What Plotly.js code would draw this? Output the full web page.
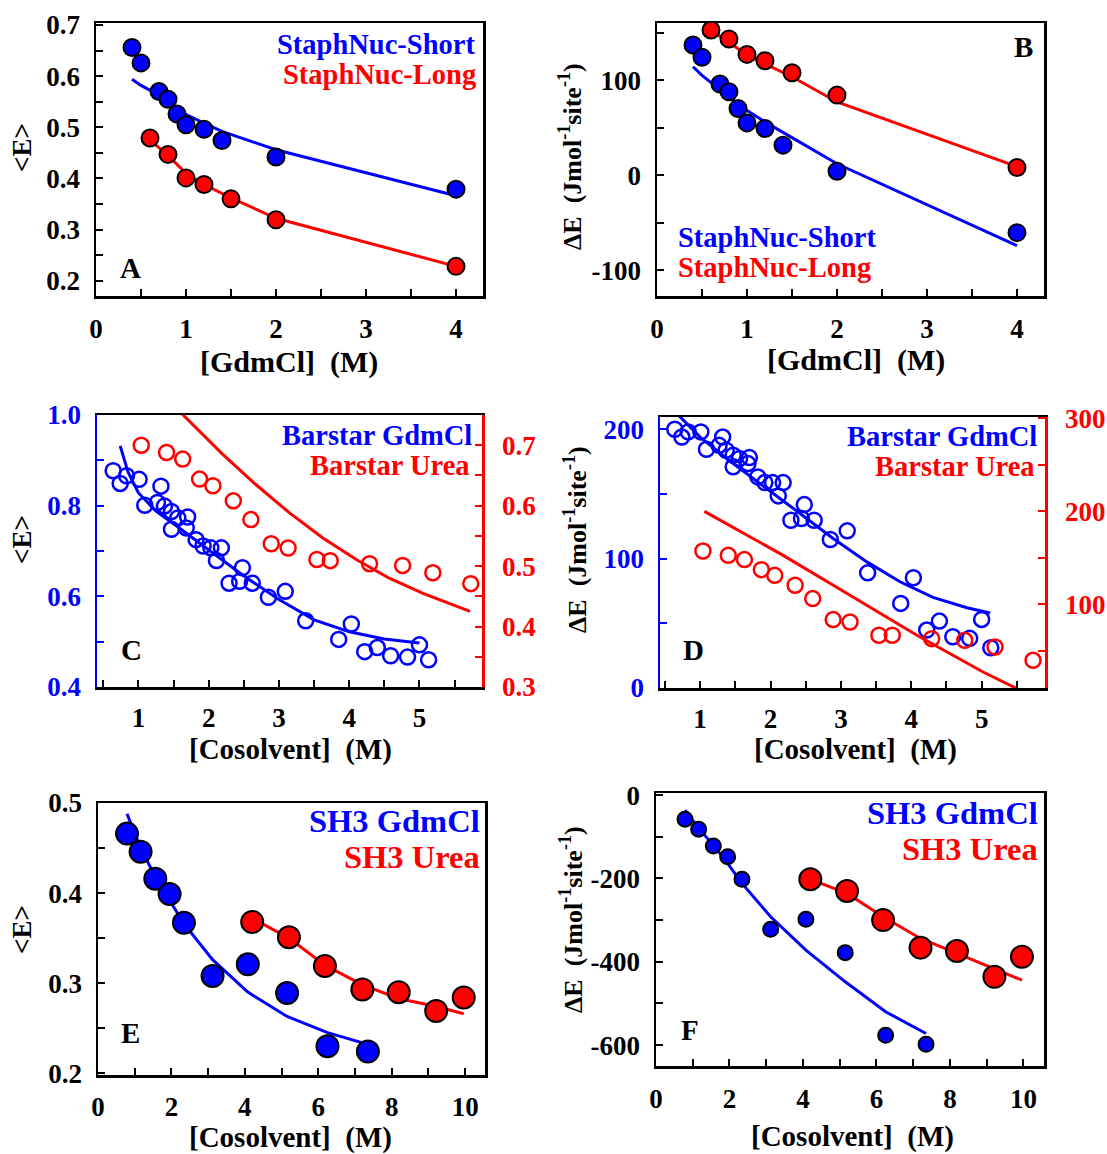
<!DOCTYPE html>
<html><head><meta charset="utf-8">
<script src="https://cdn.plot.ly/plotly-3.0.1.min.js"></script>
<style>html,body{margin:0;padding:0;background:#fff}#chart{width:1107px;height:1154px}</style>
</head><body><div id="chart"></div>
<script>
// ---------- Panel A / B : StaphNuc vs [GdmCl] ----------
const staphShortX = [0.4, 0.5, 0.7, 0.8, 0.9, 1.0, 1.2, 1.4, 2.0, 4.0];
const staphLongX  = [0.6, 0.8, 1.0, 1.2, 1.5, 2.0, 4.0];
const A_shortE    = [0.656, 0.626, 0.570, 0.555, 0.526, 0.505, 0.496, 0.474, 0.442, 0.379];
const A_shortFit  = [0.594, 0.582, 0.563, 0.552, 0.537, 0.525, 0.508, 0.492, 0.456, 0.366];
const A_longE     = [0.479, 0.447, 0.401, 0.388, 0.360, 0.319, 0.228];
const A_longFit   = [0.475, 0.445, 0.410, 0.388, 0.362, 0.322, 0.228];
const B_shortDE   = [136.8, 123.9, 95.8, 87.7, 70.2, 55.0, 49.1, 31.6, 4.2, -60.4];
const B_shortFit  = [114, 105, 90, 82, 75, 68, 56, 45, 12, -74];
const B_longDE    = [152.6, 143.2, 127.0, 120.4, 107.7, 84.2, 8.1];
const B_longFit   = [152, 140, 126, 117, 103.5, 77, 9];

// ---------- Panel C / D : Barstar vs [Cosolvent] ----------
const barGdmX = [0.64,0.74,0.83,1.01,1.09,1.32,1.27,1.37,1.47,1.56,1.70,1.47,1.68,1.82,1.92,2.03,2.18,2.11,2.29,2.48,2.44,2.62,2.85,3.09,3.38,3.85,4.03,4.22,4.40,4.59,4.83,5.00,5.13];
const C_gdmE  = [0.877,0.849,0.866,0.858,0.801,0.843,0.807,0.799,0.787,0.773,0.775,0.748,0.751,0.725,0.711,0.707,0.707,0.679,0.629,0.663,0.633,0.629,0.598,0.611,0.546,0.505,0.539,0.478,0.487,0.469,0.466,0.493,0.460];
const C_gdmFitX = [0.74, 0.85, 1.0, 1.25, 1.5, 2.0, 2.5, 3.0, 3.5, 4.0, 4.5, 5.0];
const C_gdmFit  = [0.932, 0.875, 0.828, 0.788, 0.760, 0.703, 0.645, 0.593, 0.548, 0.522, 0.506, 0.497];
const barUreaX = [1.04,1.40,1.63,1.87,2.06,2.35,2.60,2.89,3.13,3.54,3.73,4.29,4.76,5.19,5.73];
const C_ureaE  = [0.700,0.688,0.677,0.644,0.633,0.608,0.577,0.537,0.530,0.511,0.509,0.504,0.501,0.489,0.471];
const C_ureaFitX = [1.55, 2.2, 2.67, 3.15, 3.62, 4.1, 4.57, 5.05, 5.72];
const C_ureaFit  = [0.760, 0.685, 0.635, 0.588, 0.547, 0.511, 0.480, 0.455, 0.425];

const D_gdmDE = [200,194,198,198,184.6,194,187.6,183.8,180,177.4,178.1,171,173.5,163.2,158.8,158.8,158.8,148.5,129.7,141.8,131,129.7,114.8,121.5,89,65.4,85.2,44.8,51.7,39.6,38.4,53,31.1];
const D_gdmFitX = [0.69, 1.0, 1.47, 1.95, 2.42, 2.89, 3.37, 3.84, 4.31, 4.79, 5.12];
const D_gdmFit  = [211, 194, 173.5, 154.2, 134.9, 115.6, 97.5, 82.1, 70, 62, 58];
const D_ureaDE  = [157.4,152.7,148.1,137.3,131.2,120.5,106.2,83.6,81,66.7,66.7,63.1,61.3,54.1,39.8];
const D_ureaFitX = [1.06, 2.18, 3.13, 4.08, 5.02, 5.5];
const D_ureaFit  = [200, 152.7, 109.7, 66.7, 27.2, 9.4];

// ---------- Panel E / F : SH3 vs [Cosolvent] ----------
const sh3GdmX  = [0.79, 1.16, 1.56, 1.95, 2.34, 3.12, 4.08, 5.15, 6.25, 7.35];
const sh3UreaX = [4.2, 5.2, 6.18, 7.2, 8.19, 9.21, 9.96];
const E_gdmE   = [0.466, 0.446, 0.416, 0.399, 0.367, 0.308, 0.321, 0.289, 0.230, 0.224];
const E_gdmFit = [0.488, 0.450, 0.418, 0.392, 0.366, 0.326, 0.290, 0.263, 0.245, 0.232];
const E_ureaE  = [0.368, 0.351, 0.319, 0.293, 0.290, 0.269, 0.284];
const E_ureaFit= [0.372, 0.350, 0.320, 0.298, 0.283, 0.274, 0.266];
const F_gdmDE  = [-58, -82, -122, -148, -202, -322, -298, -378, -576, -598];
const F_gdmFit = [-36, -80, -120, -164, -212, -292, -372, -448, -520, -572];
const F_ureaDE = [-202, -230, -300, -366, -374, -436, -388];
const F_ureaFit= [-202, -236, -292, -344, -380, -416, -444];

// ---------- tick labels ----------
const xTicksGdm = [0, 1, 2, 3, 4];
const xTicksCos = [1, 2, 3, 4, 5];
const xTicksSH3 = [0, 2, 4, 6, 8, 10];
const yTicksA = [0.2, 0.3, 0.4, 0.5, 0.6, 0.7];
const yTicksB = [-100, 0, 100];
const yTicksCL = [0.4, 0.6, 0.8, 1.0];
const yTicksCLtext = ['0.4', '0.6', '0.8', '1.0'];
const yTicksCR = [0.3, 0.4, 0.5, 0.6, 0.7];
const yTicksDL = [0, 100, 200];
const yTicksDR = [100, 200, 300];
const yTicksE = [0.2, 0.3, 0.4, 0.5];
const yTicksF = [-600, -400, -200, 0];

// ---------- layout helpers ----------
const W = 1107, H = 1154;
const FONT = '"Liberation Serif", "Times New Roman", serif';
const BLUE = '#0000ff', RED = '#ff0000';
const dX = (a, b) => [a / W, b / W];
const dY = (top, bot) => [1 - bot / H, 1 - top / H];
const tf = (c, s) => ({family: FONT, size: s || 27, color: c || 'black', weight: 'bold'});

function axis(opts) {
  const c = opts.color || 'black';
  const a = {
    range: opts.range, showline: true, linecolor: c, linewidth: 2.5,
    mirror: opts.mirror === undefined ? true : opts.mirror,
    ticks: 'inside', ticklen: 7, tickwidth: 2, tickcolor: c,
    tickmode: 'array', tickvals: opts.vals, ticktext: opts.text || opts.vals.map(String),
    minor: {tickmode: 'linear', tick0: 0, dtick: opts.minor, ticks: 'inside', ticklen: 7, tickwidth: 2, tickcolor: c},
    showgrid: false, zeroline: false, tickfont: tf(c), ticklabelstandoff: opts.standoff === undefined ? 8 : opts.standoff,
    automargin: false, fixedrange: true
  };
  if (opts.domain) a.domain = opts.domain;
  if (opts.anchor) a.anchor = opts.anchor;
  if (opts.side) a.side = opts.side;
  if (opts.overlaying) a.overlaying = opts.overlaying;
  return a;
}

function filled(x, y, color, size, xa, ya) {
  return {x, y, xaxis: xa, yaxis: ya, type: 'scatter', mode: 'markers', showlegend: false, hoverinfo: 'skip',
    marker: {symbol: 'circle', size, color, line: {color: 'black', width: 2}}};
}
function openc(x, y, color, xa, ya) {
  return {x, y, xaxis: xa, yaxis: ya, type: 'scatter', mode: 'markers', showlegend: false, hoverinfo: 'skip',
    marker: {symbol: 'circle-open', size: 15, color, line: {width: 2.5}}};
}
function fit(x, y, color, xa, ya) {
  return {x, y, xaxis: xa, yaxis: ya, type: 'scatter', mode: 'lines', showlegend: false, hoverinfo: 'skip',
    line: {color, width: 3}};
}

const traces = [
  // A
  fit(staphShortX, A_shortFit, BLUE, 'x', 'y'),
  fit(staphLongX, A_longFit, RED, 'x', 'y'),
  filled(staphShortX, A_shortE, BLUE, 17, 'x', 'y'),
  filled(staphLongX, A_longE, RED, 17, 'x', 'y'),
  // B
  fit(staphShortX, B_shortFit, BLUE, 'x2', 'y2'),
  fit(staphLongX, B_longFit, RED, 'x2', 'y2'),
  filled(staphShortX, B_shortDE, BLUE, 17, 'x2', 'y2'),
  filled(staphLongX, B_longDE, RED, 17, 'x2', 'y2'),
  // C
  openc(barGdmX, C_gdmE, BLUE, 'x3', 'y3'),
  fit(C_gdmFitX, C_gdmFit, BLUE, 'x3', 'y3'),
  openc(barUreaX, C_ureaE, RED, 'x3', 'y4'),
  fit(C_ureaFitX, C_ureaFit, RED, 'x3', 'y4'),
  // D
  openc(barGdmX, D_gdmDE, BLUE, 'x4', 'y5'),
  fit(D_gdmFitX, D_gdmFit, BLUE, 'x4', 'y5'),
  openc(barUreaX, D_ureaDE, RED, 'x4', 'y6'),
  fit(D_ureaFitX, D_ureaFit, RED, 'x4', 'y6'),
  // E
  fit(sh3GdmX, E_gdmFit, BLUE, 'x5', 'y7'),
  fit(sh3UreaX, E_ureaFit, RED, 'x5', 'y7'),
  filled(sh3GdmX, E_gdmE, BLUE, 22, 'x5', 'y7'),
  filled(sh3UreaX, E_ureaE, RED, 22, 'x5', 'y7'),
  // F
  fit(sh3GdmX, F_gdmFit, BLUE, 'x6', 'y8'),
  fit(sh3UreaX, F_ureaFit, RED, 'x6', 'y8'),
  filled(sh3GdmX, F_gdmDE, BLUE, 15, 'x6', 'y8'),
  filled(sh3UreaX, F_ureaDE, RED, 22, 'x6', 'y8')
];

function ann(text, x, y, xanchor, color, size, angle) {
  const a = {text, xref: 'paper', yref: 'paper', x: x / W, y: 1 - y / H, xanchor, yanchor: 'middle',
    showarrow: false, font: tf(color, size), borderpad: 0};
  if (angle) a.textangle = angle;
  return a;
}
const dETitle = 'ΔE &nbsp;(Jmol<sup>-1</sup>site<sup>-1</sup>)';
const annotations = [
  // A
  ann('StaphNuc-Short', 476, 44.5, 'right', BLUE, 28.5),
  ann('StaphNuc-Long', 477, 74.5, 'right', RED, 28.5),
  ann('A', 130, 268, 'center', 'black', 29),
  ann('[GdmCl] &nbsp;(M)', 289, 362, 'center', 'black', 30),
  ann('&lt;E&gt;', 22, 148, 'center', 'black', 27, -90),
  // B
  ann('StaphNuc-Short', 677, 237, 'left', BLUE, 28.5),
  ann('StaphNuc-Long', 677, 267, 'left', RED, 28.5),
  ann('B', 1023, 47, 'center', 'black', 29),
  ann('[GdmCl] &nbsp;(M)', 856, 360, 'center', 'black', 30),
  ann(dETitle, 571, 157, 'center', 'black', 26, -90),
  // C
  ann('Barstar GdmCl', 473, 435.5, 'right', BLUE, 28.5),
  ann('Barstar Urea', 471, 465.5, 'right', RED, 28.5),
  ann('C', 131, 650, 'center', 'black', 29),
  ann('[Cosolvent] &nbsp;(M)', 290, 749, 'center', 'black', 29),
  ann('&lt;E&gt;', 22, 540, 'center', 'black', 27, -90),
  // D
  ann('Barstar GdmCl', 1038, 436.5, 'right', BLUE, 28.5),
  ann('Barstar Urea', 1036, 466.5, 'right', RED, 28.5),
  ann('D', 693, 650, 'center', 'black', 29),
  ann('[Cosolvent] &nbsp;(M)', 855, 749, 'center', 'black', 29),
  ann(dETitle, 575, 540, 'center', 'black', 26, -90),
  // E
  ann('SH3 GdmCl', 481, 821, 'right', BLUE, 32.5),
  ann('SH3 Urea', 481, 857, 'right', RED, 32.5),
  ann('E', 130, 1033, 'center', 'black', 29),
  ann('[Cosolvent] &nbsp;(M)', 290, 1137, 'center', 'black', 29),
  ann('&lt;E&gt;', 22, 930, 'center', 'black', 27, -90),
  // F
  ann('SH3 GdmCl', 1039, 813, 'right', BLUE, 32.5),
  ann('SH3 Urea', 1039, 849, 'right', RED, 32.5),
  ann('F', 690, 1030, 'center', 'black', 29),
  ann('[Cosolvent] &nbsp;(M)', 852, 1136, 'center', 'black', 29),
  ann(dETitle, 571, 920, 'center', 'black', 26, -90)
];

const layout = {
  width: W, height: H, margin: {l: 0, r: 0, t: 0, b: 0},
  paper_bgcolor: 'white', plot_bgcolor: 'rgba(0,0,0,0)', showlegend: false,
  font: {family: FONT},
  // A
  xaxis:  axis({domain: dX(96, 483), range: [0, 4.3], vals: xTicksGdm, minor: 0.5, anchor: 'y', standoff: 7}),
  yaxis:  axis({domain: dY(23, 296), range: [0.17, 0.704], vals: yTicksA, minor: 0.05, anchor: 'x'}),
  // B
  xaxis2: axis({domain: dX(657, 1044), range: [0, 4.3], vals: xTicksGdm, minor: 0.5, anchor: 'y2', standoff: 7}),
  yaxis2: axis({domain: dY(23, 296), range: [-127, 160], vals: yTicksB, minor: 50, anchor: 'x2'}),
  // C
  xaxis3: axis({domain: dX(97, 482), range: [0.41, 5.89], vals: xTicksCos, minor: 0.5, anchor: 'y3', standoff: 5}),
  yaxis3: axis({domain: dY(415, 687), range: [0.4, 1.0], vals: yTicksCL, text: yTicksCLtext, minor: 0.1, anchor: 'x3', color: BLUE, mirror: false}),
  yaxis4: axis({range: [0.3, 0.75], vals: yTicksCR, minor: 0.05, anchor: 'x3', overlaying: 'y3', side: 'right', color: RED, mirror: false, standoff: 12}),
  // D
  xaxis4: axis({domain: dX(660, 1045), range: [0.43, 5.9], vals: xTicksCos, minor: 0.5, anchor: 'y5', standoff: 5}),
  yaxis5: axis({domain: dY(417, 688), range: [0, 209.5], vals: yTicksDL, minor: 50, anchor: 'x4', color: BLUE, mirror: false}),
  yaxis6: axis({range: [10, 301.5], vals: yTicksDR, minor: 50, anchor: 'x4', overlaying: 'y5', side: 'right', color: RED, mirror: false, standoff: 12}),
  // E
  xaxis5: axis({domain: dX(98, 485), range: [0, 10.54], vals: xTicksSH3, minor: 1, anchor: 'y7', standoff: 6}),
  yaxis7: axis({domain: dY(803, 1075), range: [0.198, 0.5], vals: yTicksE, minor: 0.05, anchor: 'x5'}),
  // F
  xaxis6: axis({domain: dX(656, 1044), range: [0, 10.56], vals: xTicksSH3, minor: 1, anchor: 'y8', standoff: 7}),
  yaxis8: axis({domain: dY(793, 1066), range: [-650, 5], vals: yTicksF, minor: 100, anchor: 'x6'}),
  annotations
};

Plotly.newPlot('chart', traces, layout, {staticPlot: true, displayModeBar: false}).then(function () {
  // drop empty placeholder text nodes (e.g. unused axis titles)
  document.querySelectorAll('#chart text').forEach(function (t) {
    if (!t.textContent || !t.textContent.trim()) t.remove();
  });
});
</script>
</body></html>
